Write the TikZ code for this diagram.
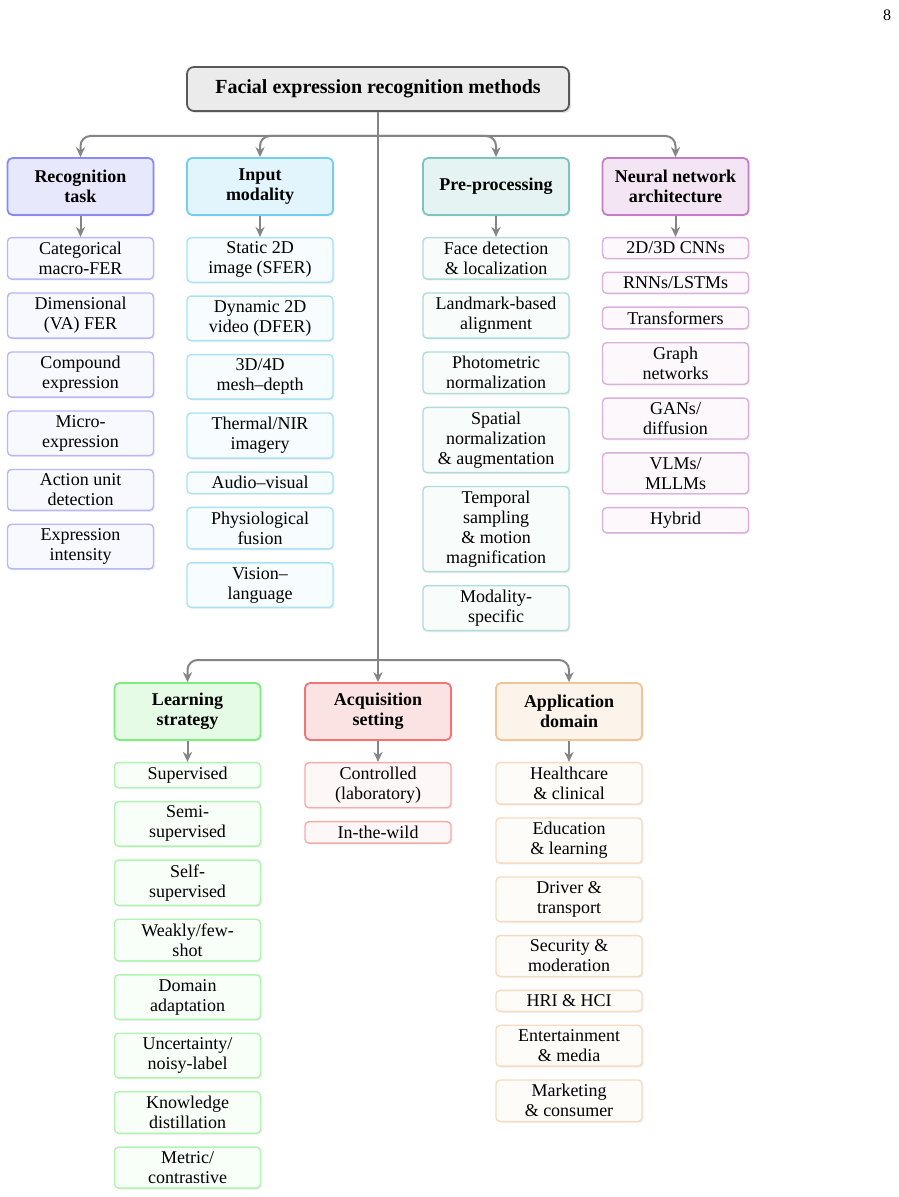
\documentclass[tikz,border=0pt]{standalone}
\usepackage{fontspec}
\setmainfont{Liberation Serif}
\usepackage{xcolor}
\usetikzlibrary{arrows.meta, positioning, shadows}

\definecolor{taskcol}{RGB}{125,125,245}
\definecolor{modcol}{RGB}{100,200,240}
\definecolor{precol}{RGB}{110,190,185}
\definecolor{archcol}{RGB}{190,110,190}
\definecolor{learncol}{RGB}{110,235,110}
\definecolor{acqcol}{RGB}{240,100,100}
\definecolor{appcol}{RGB}{240,190,140}

\begin{document}
\begin{tikzpicture}[
    x=0.5pt,
    y=-0.5pt,
    >=Stealth,
    font=\fontsize{9}{10}\selectfont,
    box/.style={align=center, minimum width=73pt, inner sep=2.2pt,
        drop shadow={opacity=0.12, shadow xshift=0.8pt, shadow yshift=-0.8pt}},
    rootbox/.style={draw=black!65, fill=black!8, line width=0.9pt, rounded corners=3.5pt,
        minimum width=191pt, minimum height=22pt, font=\fontsize{10}{12}\selectfont\bfseries,
        drop shadow={opacity=0.22, shadow xshift=1pt, shadow yshift=-1pt}},
    head/.style={box, draw=#1!90, fill=#1!18, line width=0.9pt, rounded corners=2.5pt,
        minimum height=28.5pt, font=\fontsize{9}{10}\selectfont\bfseries},
    item/.style={box, draw=#1!55, fill=#1!5, line width=0.7pt, rounded corners=2pt},
    conn/.style={draw=black!48, line width=1pt, -{Stealth[length=5pt,width=4.6pt]}}
]
\useasboundingbox (0,0) rectangle (898,1197);
% Page number
\node (pgnum) [anchor=base] at (887,21) {\fontsize{8}{9.5}\selectfont 8};
% Root
\node[rootbox] (fer) at (378,89) {Facial expression recognition methods};
% Category headings
\node[head=taskcol] (task0) at (80.5,186.5) {Recognition\\task};
\node[head=modcol] (mod0) at (260,186.5) {Input\\modality};
\node[head=precol] (pre0) at (496,186.5) {Pre-processing};
\node[head=archcol] (arch0) at (675.5,186.5) {Neural network\\architecture};
\node[head=learncol] (learn0) at (187.5,711.5) {Learning\\strategy};
\node[head=acqcol] (acq0) at (378,711.5) {Acquisition\\setting};
\node[head=appcol] (app0) at (569,711.5) {Application\\domain};
% Recognition task
\foreach \txt [count=\i, remember=\i as \j (initially 0)] in {{Categorical\\macro-FER}, {Dimensional\\(VA) FER}, {Compound\\expression}, {Micro-\\expression}, {Action unit\\detection}, {Expression\\intensity}} {
    \def\gap{6.25pt}\ifnum\i=1 \def\gap{10.5pt}\fi
    \node[item=taskcol, below=\gap of task\j] (task\i) {\txt};
}
% Input modality
\foreach \txt [count=\i, remember=\i as \j (initially 0)] in {{Static 2D\\image (SFER)}, {Dynamic 2D\\video (DFER)}, {3D/4D\\mesh--depth}, {Thermal/NIR\\imagery}, {Audio--visual}, {Physiological\\fusion}, {Vision--\\language}} {
    \def\gap{6.25pt}\ifnum\i=1 \def\gap{10.5pt}\fi
    \node[item=modcol, below=\gap of mod\j] (mod\i) {\txt};
}
% Pre-processing
\foreach \txt [count=\i, remember=\i as \j (initially 0)] in {{Face detection\\\& localization}, {Landmark-based\\alignment}, {Photometric\\normalization}, {Spatial\\normalization\\\& augmentation}, {Temporal\\sampling\\\& motion\\magnification}, {Modality-\\specific}} {
    \def\gap{6.25pt}\ifnum\i=1 \def\gap{10.5pt}\fi
    \node[item=precol, below=\gap of pre\j] (pre\i) {\txt};
}
% Architecture
\foreach \txt [count=\i, remember=\i as \j (initially 0)] in {{2D/3D CNNs}, {RNNs/LSTMs}, {Transformers}, {Graph\\networks}, {GANs/\\diffusion}, {VLMs/\\MLLMs}, {Hybrid}} {
    \def\gap{6.25pt}\ifnum\i=1 \def\gap{10.5pt}\fi
    \node[item=archcol, below=\gap of arch\j] (arch\i) {\txt};
}
% Learning strategy
\foreach \txt [count=\i, remember=\i as \j (initially 0)] in {{Supervised}, {Semi-\\supervised}, {Self-\\supervised}, {Weakly/few-\\shot}, {Domain\\adaptation}, {Uncertainty/\\noisy-label}, {Knowledge\\distillation}, {Metric/\\contrastive}} {
    \def\gap{6.25pt}\ifnum\i=1 \def\gap{10.5pt}\fi
    \node[item=learncol, below=\gap of learn\j] (learn\i) {\txt};
}
% Acquisition setting
\foreach \txt [count=\i, remember=\i as \j (initially 0)] in {{Controlled\\(laboratory)}, {In-the-wild}} {
    \def\gap{6.25pt}\ifnum\i=1 \def\gap{10.5pt}\fi
    \node[item=acqcol, below=\gap of acq\j] (acq\i) {\txt};
}
% Application domain
\foreach \txt [count=\i, remember=\i as \j (initially 0)] in {{Healthcare\\\& clinical}, {Education\\\& learning}, {Driver \&\\transport}, {Security \&\\moderation}, {HRI \& HCI}, {Entertainment\\\& media}, {Marketing\\\& consumer}} {
    \def\gap{6.25pt}\ifnum\i=1 \def\gap{10.5pt}\fi
    \node[item=appcol, below=\gap of app\j] (app\i) {\txt};
}
% Connectors
\coordinate (bus1) at (378,136);
\coordinate (bus2) at (378,660);
\draw[conn] (fer) -- (acq0);
\foreach \h in {task0, mod0, pre0, arch0} {
    \draw[conn, rounded corners=5pt] (bus1) -| (\h.north);
}
\foreach \h in {learn0, app0} {
    \draw[conn, rounded corners=5pt] (bus2) -| (\h.north);
}
\foreach \h in {task, mod, pre, arch, learn, acq, app} {
    \draw[conn] (\h0) -- (\h1);
}
\end{tikzpicture}
\end{document}
